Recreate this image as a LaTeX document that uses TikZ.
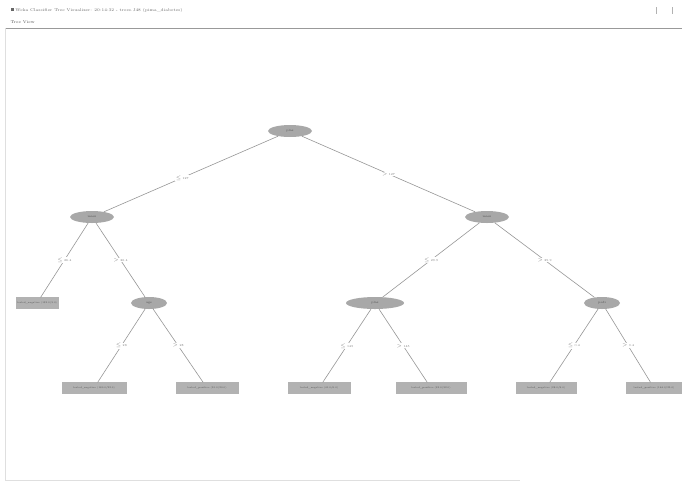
\documentclass[tikz,border=0pt]{standalone}
\usepackage{tikz}
\usetikzlibrary{shapes,positioning,calc}
\definecolor{nodegray}{RGB}{168,168,168}
\definecolor{leafgray}{RGB}{178,178,178}
\definecolor{edgegray}{RGB}{150,150,150}
\definecolor{labgray}{RGB}{120,120,120}

\begin{document}
\begin{tikzpicture}[x=1pt,y=-1pt,
  split/.style={ellipse,fill=nodegray,inner sep=0pt,minimum height=12pt,font=\fontsize{3}{3.5}\selectfont,text=black!70},
  leaf/.style={rectangle,fill=leafgray,draw=gray!60,line width=0.3pt,inner sep=0pt,minimum height=11pt,font=\fontsize{2.4}{3}\selectfont,text=black!70},
  branch/.style={draw=edgegray,line width=0.6pt},
  cut/.style={font=\fontsize{3}{3.5}\selectfont,text=labgray,fill=white,inner sep=0.5pt}]
\useasboundingbox (0,0) rectangle (682,483);
% window frame
\node[anchor=west,font=\fontsize{4}{5}\selectfont,text=black!60] (title) at (7,10)
  {\rule{3pt}{3pt}\ Weka Classifier Tree Visualizer: 20:14:32 - trees.J48 (pima\_diabetes)};
\node[anchor=west,font=\fontsize{4}{5}\selectfont,text=black!70] (view) at (7,22) {Tree View};
\draw[gray!80,line width=0.9pt] (5,28) -- (682,28);
\draw[gray!25,line width=0.6pt] (5,28) -- (5,480) -- (520,480);
\draw[gray!60,line width=0.6pt] (656,7) -- (656,14);
\draw[gray!60,line width=0.6pt] (672,7) -- (672,14);
% nodes
\node[split,minimum width=44pt] (plas) at (290,131) {plas};
\node[split,minimum width=44pt] (massA) at (92,217) {mass};
\node[split,minimum width=44pt] (massB) at (487,217) {mass};
\node[leaf,minimum width=42pt] (negA) at (37,303) {tested\_negative (132.0/3.0)};
\node[split,minimum width=36pt] (age) at (149,303) {age};
\node[split,minimum width=58pt] (plasB) at (375,303) {plas};
\node[split,minimum width=36pt] (pedi) at (602,303) {pedi};
\node[leaf,minimum width=64pt] (negB) at (94,388) {tested\_negative (180.0/22.0)};
\node[leaf,minimum width=62pt] (posA) at (207,388) {tested\_positive (55.0/20.0)};
\node[leaf,minimum width=62pt] (negC) at (319,388) {tested\_negative (41.0/6.0)};
\node[leaf,minimum width=70pt] (posB) at (431,388) {tested\_positive (92.0/32.0)};
\node[leaf,minimum width=60pt] (negD) at (546,388) {tested\_negative (28.0/8.0)};
\node[leaf,minimum width=56pt] (posC) at (654,388) {tested\_positive (164.0/25.0)};
% branches
\draw[branch] (plas) -- (massA) node[cut,pos=0.55]{$\le$ 127};
\draw[branch] (plas) -- (massB) node[cut,pos=0.5]{$>$ 127};
\draw[branch] (massA) -- (negA) node[cut,pos=0.5]{$\le$ 26.4};
\draw[branch] (massA) -- (age) node[cut,pos=0.5]{$>$ 26.4};
\draw[branch] (age) -- (negB) node[cut,pos=0.5]{$\le$ 28};
\draw[branch] (age) -- (posA) node[cut,pos=0.5]{$>$ 28};
\draw[branch] (massB) -- (plasB) node[cut,pos=0.5]{$\le$ 29.9};
\draw[branch] (massB) -- (pedi) node[cut,pos=0.5]{$>$ 29.9};
\draw[branch] (plasB) -- (negC) node[cut,pos=0.5]{$\le$ 145};
\draw[branch] (plasB) -- (posB) node[cut,pos=0.5]{$>$ 145};
\draw[branch] (pedi) -- (negD) node[cut,pos=0.5]{$\le$ 0.4};
\draw[branch] (pedi) -- (posC) node[cut,pos=0.5]{$>$ 0.4};
\end{tikzpicture}
\end{document}
